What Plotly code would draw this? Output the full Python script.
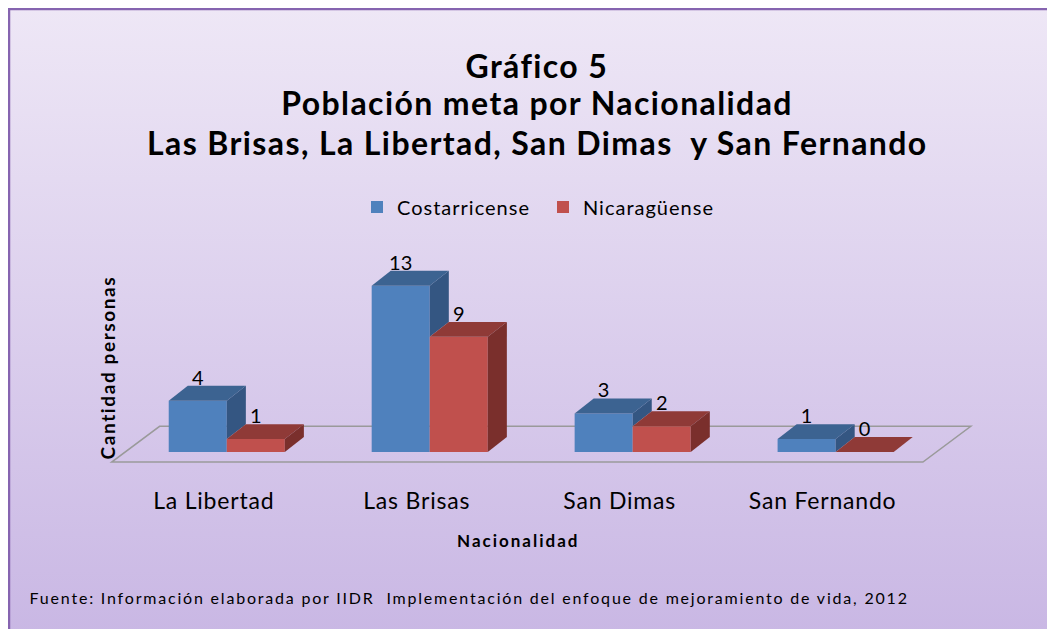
import base64
import plotly.graph_objects as go

# ---------------- data ----------------
categories = ["La Libertad", "Las Brisas", "San Dimas", "San Fernando"]
series_names = ["Costarricense", "Nicaragüense"]
costarricense = [4, 13, 3, 1]
nicaraguense = [1, 9, 2, 0]

# ---------------- layout geometry ----------------
OFF = 8                      # page body margin
W, H = 1055, 629
ML, MT = 105 - OFF, 241 - OFF
PW, PH = 893, 239
MR = W - ML - PW
MB = H - MT - PH
XR = [-0.6, 3.8]
YR = [-2.2, 16.5]

def px_x(px):   # page pixel -> paper x
    return (px - OFF - ML) / PW

def px_y(py):   # page pixel -> paper y
    return (MT + PH - (py - OFF)) / PH

FONT = "Lato"
BAR_W = 0.286
DX = 0.094   # depth offset in x units
DY = 1.17    # depth offset in y units
LABEL_DROP = 0.3

front_cols = ["#4f81bd", "#c0504d"]
top_cols = ["#3c6391", "#8f3a37"]
side_cols = ["#345682", "#7a2f2c"]

fig = go.Figure()

xs = list(range(len(categories)))
vals = [costarricense, nicaraguense]
offsets = [-BAR_W, 0.0]

# front faces (bars)
for s, (name, v) in enumerate(zip(series_names, vals)):
    fig.add_trace(go.Bar(
        x=xs, y=v, name=name, width=BAR_W, offset=offsets[s],
        marker=dict(color=front_cols[s], line=dict(width=0)),
        hoverinfo="skip",
    ))

def poly(pts, color):
    fig.add_trace(go.Scatter(
        x=[p[0] for p in pts] + [pts[0][0]],
        y=[p[1] for p in pts] + [pts[0][1]],
        mode="lines", fill="toself", fillcolor=color,
        line=dict(width=0, color=color), showlegend=False, hoverinfo="skip",
    ))

for i in xs:
    b = costarricense[i]
    r = nicaraguense[i]
    x1 = i
    lo = max(r, 0)
    if b > lo:
        poly([(x1, lo), (x1, b), (x1 + DX, b + DY), (x1 + DX, lo + DY)], side_cols[0])
    x0 = i - BAR_W
    poly([(x0, b), (x1, b), (x1 + DX, b + DY), (x0 + DX, b + DY)], top_cols[0])
    rx0, rx1 = i, i + BAR_W
    poly([(rx0, r), (rx1, r), (rx1 + DX, r + DY), (rx0 + DX, r + DY)], top_cols[1])
    if r > 0:
        poly([(rx1, 0), (rx1, r), (rx1 + DX, r + DY), (rx1 + DX, DY)], side_cols[1])

# value labels
for s, v in enumerate(vals):
    fig.add_trace(go.Scatter(
        x=[i + offsets[s] + BAR_W / 2 for i in xs],
        y=[val + DY - LABEL_DROP for val in v],
        mode="text", text=[str(val) for val in v],
        textposition="top center",
        textfont=dict(family=FONT, size=20, color="#000000"),
        showlegend=False, hoverinfo="skip",
    ))

# floor outline
fx0, fx1 = -0.567, 3.43
fy0 = -0.80
fdx, fdy = 0.236, 2.8
floor_path = (f"M {fx0},{fy0} L {fx1},{fy0} L {fx1+fdx},{fy0+fdy} "
              f"L {fx0+fdx},{fy0+fdy} Z")
shapes = [dict(type="path", path=floor_path, xref="x", yref="y",
               line=dict(color="#9a9a9a", width=1.5), layer="below")]

# frame border (top & left)
shapes.append(dict(type="rect", xref="paper", yref="paper",
                   x0=px_x(OFF + 1), x1=px_x(W + 40), y0=px_y(H + 40), y1=px_y(OFF + 1),
                   line=dict(color="#8664b0", width=2.5), layer="above"))

# gradient background
svg = ('<svg xmlns="http://www.w3.org/2000/svg" width="100" height="100" preserveAspectRatio="none">'
       '<defs><linearGradient id="g" x1="0" y1="0" x2="0" y2="1">'
       '<stop offset="0" stop-color="#eee7f6"/><stop offset="1" stop-color="#c9b7e4"/>'
       '</linearGradient></defs><rect width="100" height="100" fill="url(#g)"/></svg>')
uri = "data:image/svg+xml;base64," + base64.b64encode(svg.encode()).decode()
images = [dict(source=uri, xref="paper", yref="paper",
               x=px_x(OFF), y=px_y(OFF), sizex=W / PW, sizey=H / PH,
               xanchor="left", yanchor="top", sizing="stretch", layer="below")]

annotations = []
title_lines = ["Gráfico 5", "Población meta por Nacionalidad",
               "Las Brisas, La Libertad, San Dimas  y San Fernando"]
for t, yc in zip(title_lines, [65, 103, 142]):
    annotations.append(dict(text=f"<b>{t}</b>", xref="paper", yref="paper",
                            x=px_x(537), y=px_y(yc), xanchor="center", yanchor="middle",
                            showarrow=False, font=dict(family=FONT, size=32, color="#000000")))
annotations.append(dict(text="<b>Nacionalidad</b>", xref="paper", yref="paper",
                        x=px_x(518), y=px_y(540), xanchor="center", yanchor="middle",
                        showarrow=False, font=dict(family=FONT, size=17, color="#000000")))
annotations.append(dict(text="<b>Cantidad personas</b>", xref="paper", yref="paper",
                        x=px_x(107), y=px_y(368), xanchor="center", yanchor="middle",
                        textangle=-90, showarrow=False,
                        font=dict(family=FONT, size=19, color="#000000")))
annotations.append(dict(text="Fuente: Información elaborada por IIDR  Implementación del enfoque de mejoramiento de vida, 2012",
                        xref="paper", yref="paper", x=px_x(469), y=px_y(597),
                        xanchor="center", yanchor="middle", showarrow=False,
                        font=dict(family=FONT, size=16, color="#000000")))

fig.update_layout(
    width=W, height=H,
    margin=dict(l=ML, r=MR, t=MT, b=MB, pad=0),
    paper_bgcolor="#ddd0ee", plot_bgcolor="rgba(0,0,0,0)",
    barmode="overlay",
    showlegend=True,
    legend=dict(orientation="h", x=px_x(371 - 14), y=px_y(207), xanchor="left", yanchor="middle",
                font=dict(family=FONT, size=20, color="#000000"), bgcolor="rgba(0,0,0,0)",
                entrywidth=141, entrywidthmode="pixels",
                itemsizing="constant", traceorder="normal"),
    xaxis=dict(range=XR, tickvals=xs, ticktext=categories, showgrid=False, zeroline=False,
               showline=False, ticks="outside", ticklen=0, tickcolor="rgba(0,0,0,0)",
               ticklabelshift=-13,
               tickfont=dict(family=FONT, size=23, color="#000000"), fixedrange=True),
    yaxis=dict(range=YR, showgrid=False, zeroline=False, showline=False,
               showticklabels=False, ticks="", fixedrange=True),
    shapes=shapes, images=images, annotations=annotations,
)

css = (".annotation[data-index='0'] text, .annotation[data-index='1'] text, "
       ".annotation[data-index='2'] text{letter-spacing:1.4px}"
       ".annotation[data-index='3'] text{letter-spacing:2px}"
       ".annotation[data-index='4'] text{letter-spacing:1.6px}"
       ".annotation[data-index='5'] text{letter-spacing:1.8px}"
       ".xtick text{letter-spacing:0.8px}"
       ".legendtext{letter-spacing:1px}")
post = ("var s=document.createElement('style');s.textContent=\"" + css + "\";"
        "document.head.appendChild(s);")

fig.write_html("out.html", post_script=post)
